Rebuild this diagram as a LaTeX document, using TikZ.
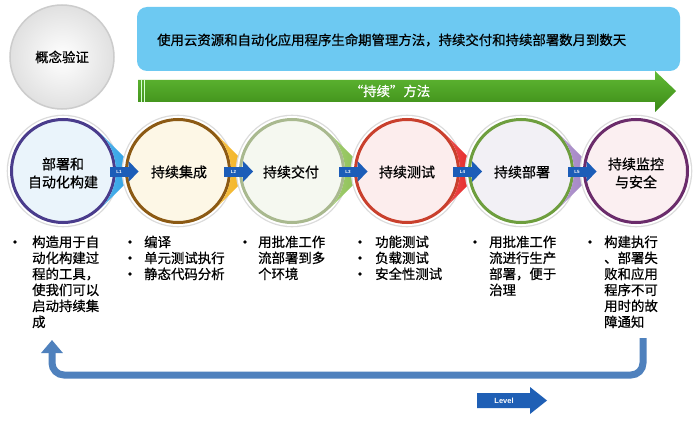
\documentclass[tikz,border=0pt]{standalone}
\usepackage{fontspec}
\newfontfamily\cjk{Noto Sans CJK SC}[FakeBold=0.7]
\newfontfamily\lat{Liberation Sans}
\usetikzlibrary{arrows.meta}
\definecolor{boxblue}{HTML}{6DC9F2}
\definecolor{gtop}{HTML}{62BA35}
\definecolor{gbot}{HTML}{3A8A16}
\definecolor{arrblue}{HTML}{1C5DB8}
\definecolor{retblue}{HTML}{4F81BD}
\definecolor{lvlblue}{HTML}{1F5FB5}
\definecolor{wA}{HTML}{1E9BE4}
\definecolor{wB}{HTML}{F2AE12}
\definecolor{wC}{HTML}{86BD48}
\definecolor{wD}{HTML}{E41818}
\definecolor{wE}{HTML}{9C7BC0}
\definecolor{bA}{HTML}{4A3C8C}
\definecolor{bB}{HTML}{8C5A14}
\definecolor{bC}{HTML}{A9B98F}
\definecolor{bD}{HTML}{C9402D}
\definecolor{bE}{HTML}{6E9E3E}
\definecolor{bF}{HTML}{6B2C6B}
\definecolor{fA}{HTML}{EAF4FB}
\definecolor{fB}{HTML}{FDF7E6}
\definecolor{fC}{HTML}{F5F8F0}
\definecolor{fD}{HTML}{FCEDED}
\definecolor{fE}{HTML}{F2F0F5}
\definecolor{fF}{HTML}{FBEFF1}
\tikzset{
  txt/.style={font=\cjk\fontsize{13.4}{16}\selectfont, inner sep=0pt, text=black},
  ctxt/.style={font=\cjk\fontsize{14}{18}\selectfont, inner sep=0pt, align=center, text=black},
  ltxt/.style={font=\lat\bfseries\fontsize{4.5}{5}\selectfont, inner sep=0pt, text=white},
  halo/.style={fill=black!14},
}
\newcommand\stage[3]{% x, fill, border
  \fill[halo] (#1,171) circle (56.3);
  \fill[white] (#1,171) circle (55);
  \draw[fill=#2, draw=#3, line width=3pt] (#1,171) circle (51.5);
}
\newcommand\wedgeshape[2]{% x, color
  \shade[left color=#2!75!white, right color=#2] (#1+37.5,133.5) -- (#1+75,171) -- (#1+37.5,208.5)
    arc[start angle=45, end angle=-45, radius=53] -- cycle;
}
\newcommand\smallarrow[2]{% midpoint, label
  \fill[arrblue] (#1-11,166.5) rectangle (#1+8,176.5);
  \fill[arrblue] (#1+8,161) -- (#1+18,171.5) -- (#1+8,182) -- cycle;
  \node[ltxt] at (#1-1.5,171.5) {#2};
}
\begin{document}
\begin{tikzpicture}[x=1pt,y=-1pt]
\useasboundingbox (0,0) rectangle (700,422);
\fill[white] (0,0) rectangle (700,422);

% proof of concept circle
\shade[inner color=white, outer color=black!12!white] (62,57) circle (52);
\draw[black!20, line width=1.5pt] (62,57) circle (52);
\node[txt] (poc) at (62,57) {概念验证};

% banner
\fill[boxblue, rounded corners=10pt] (137,7) rectangle (680,71);
\node[txt, anchor=west] (banner) at (157,40) {使用云资源和自动化应用程序生命期管理方法，持续交付和持续部署数月到数天};

% green arrow
\shade[top color=gtop, bottom color=gbot] (138,80) -- (655,80) -- (655,71) -- (676,91) -- (655,112) -- (655,102) -- (138,102) -- cycle;
\draw[white!85!green, line width=0.8pt] (141,80) -- (141,102);
\draw[white!85!green, line width=0.8pt] (144.5,80) -- (144.5,102);
\node[txt, text=white] (method) at (390,91) {“持续”方法};

% stages
\stage{63}{fA}{bA}
\wedgeshape{63}{wA}
\stage{178}{fB}{bB}
\wedgeshape{178}{wB}
\stage{292}{fC}{bC}
\wedgeshape{292}{wC}
\stage{407}{fD}{bD}
\wedgeshape{407}{wD}
\stage{521}{fE}{bE}
\wedgeshape{521}{wE}
\stage{636}{fF}{bF}

\node[ctxt] (s1) at (63,173) {部署和\\自动化构建};
\node[ctxt] (s2) at (179,172) {持续集成};
\node[ctxt] (s3) at (291,172) {持续交付};
\node[ctxt] (s4) at (407,172) {持续测试};
\node[ctxt] (s5) at (522,172) {持续部署};
\node[ctxt] (s6) at (636,173) {持续监控\\与安全};

\smallarrow{120.5}{L1}
\smallarrow{235}{L2}
\smallarrow{349.5}{L3}
\smallarrow{464}{L4}
\smallarrow{578.5}{L5}

% bullets
\foreach \bx/\by in {15/242, 130/242, 130/258, 130/274, 245/242, 360/242, 360/258, 360/274, 475/242, 590/242}
  \fill (\bx,\by) circle (1.8);

\node[txt, align=left, anchor=north west] (t1) at (32,235.5) {构造用于自\\动化构建过\\程的工具，\\使我们可以\\启动持续集\\成};
\node[txt, align=left, anchor=north west] (t2) at (144,235.5) {编译\\单元测试执行\\静态代码分析};
\node[txt, align=left, anchor=north west] (t3) at (258,235.5) {用批准工作\\流部署到多\\个环境};
\node[txt, align=left, anchor=north west] (t4) at (375,235.5) {功能测试\\负载测试\\安全性测试};
\node[txt, align=left, anchor=north west] (t5) at (489,235.5) {用批准工作\\流进行生产\\部署，便于\\治理};
\node[txt, align=left, anchor=north west] (t6) at (604,235.5) {构建执行\\、部署失\\败和应用\\程序不可\\用时的故\\障通知};

% return arrow
\coordinate (retS) at (643,338);
\coordinate (retC) at (52,375);
\coordinate (retE) at (52,340);
\draw[retblue, line width=7pt, rounded corners=12pt, -{Triangle[width=21pt,length=13pt]}] (retS) |- (retC) -- (retE);

% level arrow
\fill[lvlblue] (477,393) -- (530,393) -- (530,387) -- (547,400.5) -- (530,414) -- (530,408) -- (477,408) -- cycle;
\node[font=\lat\bfseries\fontsize{7.5}{9}\selectfont, text=white, inner sep=0pt] (level) at (504,400.5) {Level};
\end{tikzpicture}
\end{document}
